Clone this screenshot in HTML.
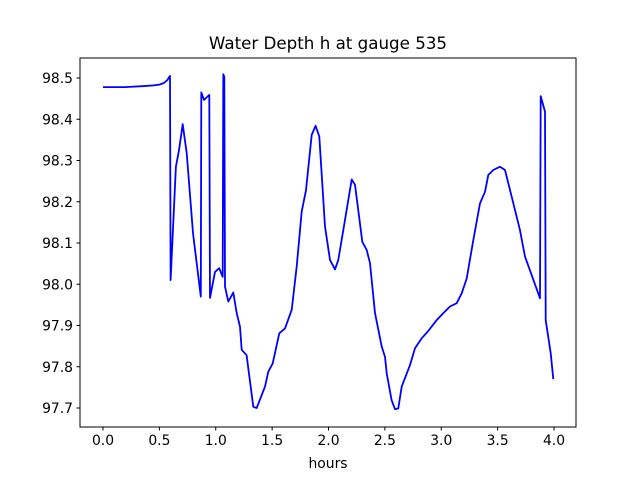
<!DOCTYPE html>
<html><head><meta charset="utf-8"><style>
body{margin:0;background:#fff;}
svg{display:block;font-family:"DejaVu Sans","Liberation Sans",sans-serif;}
</style></head><body>
<svg id="chart" width="640" height="480" xmlns="http://www.w3.org/2000/svg">
<rect width="640" height="480" fill="#fff"/>
<text x="328" y="49" text-anchor="middle" font-size="16.7">Water Depth h at gauge 535</text>
<g id="xticks"></g>
<g id="yticks"></g>
<path id="line" fill="none" stroke="#0000ff" stroke-width="1.8" stroke-linejoin="round"/>
<rect x="80" y="58" width="496" height="369" fill="none" stroke="#000" stroke-width="1"/>
<text x="328" y="468" text-anchor="middle" font-size="13.9">hours</text>
</svg>
<script>
const hours=[0,0.2,0.35,0.45,0.5,0.54,0.57,0.594,0.600,0.647,0.674,0.707,0.742,0.798,0.867,0.872,0.896,0.943,0.949,0.993,1.031,1.062,1.067,1.076,1.082,1.111,1.156,1.186,1.215,1.230,1.274,1.333,1.363,1.437,1.466,1.505,1.564,1.614,1.674,1.718,1.762,1.800,1.851,1.886,1.918,1.969,2.013,2.058,2.087,2.146,2.206,2.235,2.300,2.339,2.368,2.412,2.472,2.501,2.516,2.560,2.590,2.619,2.649,2.723,2.767,2.827,2.885,2.960,3.018,3.078,3.137,3.181,3.226,3.284,3.344,3.388,3.417,3.462,3.521,3.565,3.625,3.698,3.743,3.802,3.876,3.882,3.920,3.926,3.949,3.971,3.994];
const depth=[98.478,98.478,98.480,98.482,98.484,98.488,98.495,98.505,98.010,98.285,98.325,98.388,98.318,98.124,97.970,98.465,98.447,98.459,97.967,98.030,98.039,98.018,98.509,98.503,97.994,97.958,97.980,97.930,97.897,97.841,97.828,97.703,97.700,97.752,97.788,97.808,97.881,97.893,97.938,98.043,98.176,98.228,98.362,98.384,98.358,98.140,98.059,98.036,98.059,98.156,98.254,98.241,98.103,98.083,98.051,97.930,97.849,97.824,97.784,97.719,97.697,97.699,97.752,97.804,97.845,97.869,97.887,97.913,97.930,97.946,97.954,97.978,98.014,98.107,98.196,98.224,98.265,98.277,98.285,98.277,98.212,98.132,98.067,98.022,97.966,98.456,98.418,97.913,97.873,97.833,97.770];
const xTicks=[0,0.5,1,1.5,2,2.5,3,3.5,4];
const yTicks=[97.7,97.8,97.9,98.0,98.1,98.2,98.3,98.4,98.5];
const xs=h=>103+h*112.75;
const ys=v=>78+(98.5-v)*412.5;
const NS="http://www.w3.org/2000/svg";
let d="";
for(let i=0;i<hours.length;i++){d+=(i?"L":"M")+xs(hours[i]).toFixed(1)+","+ys(depth[i]).toFixed(1);}
document.getElementById('line').setAttribute('d',d);
const xg=document.getElementById('xticks'),yg=document.getElementById('yticks');
xTicks.forEach(t=>{
 const l=document.createElementNS(NS,'line');
 
 
 l.setAttribute('x1',xs(t));l.setAttribute('x2',xs(t));l.setAttribute('y1',427);l.setAttribute('y2',430.5);l.setAttribute('stroke','#000');
 xg.appendChild(l);
 const tx=document.createElementNS(NS,'text');
 
 
 tx.setAttribute('x',xs(t));tx.setAttribute('y',445);tx.setAttribute('text-anchor','middle');tx.setAttribute('font-size','13.9');
 tx.textContent=t.toFixed(1);xg.appendChild(tx);
});
yTicks.forEach(t=>{
 const l=document.createElementNS(NS,'line');
 
 
 l.setAttribute('x1',76.5);l.setAttribute('x2',80);l.setAttribute('y1',ys(t));l.setAttribute('y2',ys(t));l.setAttribute('stroke','#000');
 yg.appendChild(l);
 const tx=document.createElementNS(NS,'text');
 
 
 tx.setAttribute('x',73);tx.setAttribute('y',ys(t)+5);tx.setAttribute('text-anchor','end');tx.setAttribute('font-size','13.9');
 tx.textContent=t.toFixed(1);yg.appendChild(tx);
});
</script>
</body></html>
